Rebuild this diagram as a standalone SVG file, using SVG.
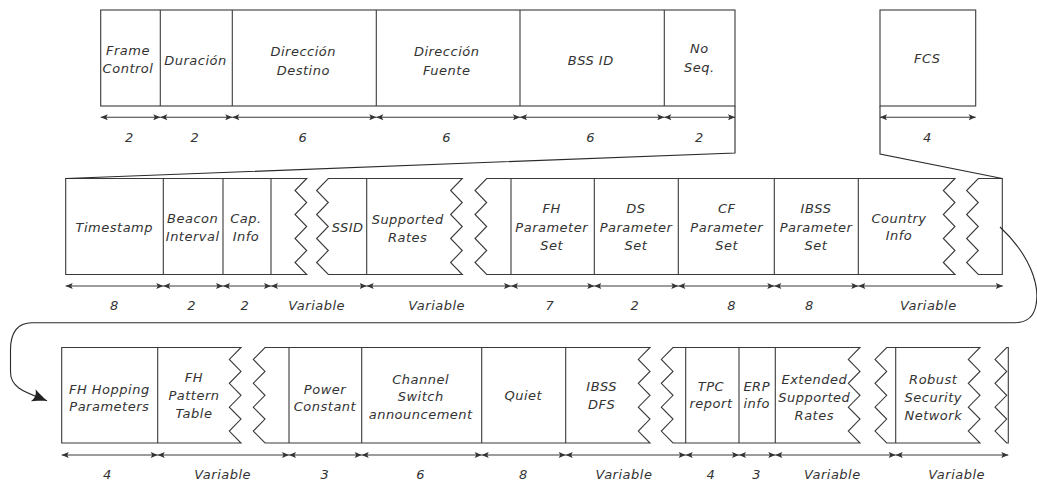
<svg xmlns="http://www.w3.org/2000/svg" width="1037" height="483" viewBox="0 0 1037 483">
<style>
.box{fill:#fff;stroke:#3a3a3a;stroke-width:1.1;stroke-linejoin:miter}
.div{stroke:#3a3a3a;stroke-width:1.1}
.dim{stroke:#3a3a3a;stroke-width:1.1;marker-start:url(#dimarr);marker-end:url(#dimarr)}
.con{fill:none;stroke:#2a2a2a;stroke-width:1.1}
text{font-family:"DejaVu Sans","Liberation Sans",sans-serif;font-style:italic;font-size:13px;fill:#333;text-anchor:middle;letter-spacing:0.5px}
</style>
<defs>
<marker id="dimarr" markerUnits="userSpaceOnUse" viewBox="-8 -4 9 8" refX="0" refY="0" markerWidth="9" markerHeight="8" orient="auto-start-reverse">
<path d="M0,0 L-7,-3 L-5.5,0 L-7,3 Z" fill="#333"/>
</marker>
<marker id="bigarr" markerUnits="userSpaceOnUse" viewBox="-16 -8 17 16" refX="0" refY="0" markerWidth="17" markerHeight="16" orient="auto">
<path d="M0,0 C-4,-1.5 -9,-3.5 -15,-6.5 C-12,-2.5 -12,2.5 -15,6.5 C-9,3.5 -4,1.5 0,0 Z" fill="#222"/>
</marker>
</defs>

<!-- Row 1 outlines -->
<g id="row1">
<rect class="box" x="100.7" y="10" width="634.3" height="96"/>
<line class="div" x1="160.3" y1="10" x2="160.3" y2="106"/>
<line class="div" x1="232.3" y1="10" x2="232.3" y2="106"/>
<line class="div" x1="376.3" y1="10" x2="376.3" y2="106"/>
<line class="div" x1="520" y1="10" x2="520" y2="106"/>
<line class="div" x1="664.3" y1="10" x2="664.3" y2="106"/>
<rect class="box" x="880" y="10" width="95.7" height="96"/>
</g>
<g id="frame-control"><text x="128" y="54.5">Frame</text><text x="128" y="72.5">Control</text><text x="129.3" y="141.5">2</text></g>
<g id="duracion"><text x="195.5" y="64.5">Duración</text><text x="195" y="141.5">2</text></g>
<g id="direccion-destino"><text x="303.3" y="55.5">Dirección</text><text x="303.3" y="74.5">Destino</text><text x="303" y="141.5">6</text></g>
<g id="direccion-fuente"><text x="446.7" y="55.5">Dirección</text><text x="446.7" y="74.5">Fuente</text><text x="446.7" y="141.5">6</text></g>
<g id="bss-id"><text x="590.7" y="64.5">BSS ID</text><text x="590.7" y="141.5">6</text></g>
<g id="no-seq"><text x="699.3" y="52.5">No</text><text x="699.3" y="71.5">Seq.</text><text x="699.3" y="141.5">2</text></g>
<g id="fcs"><text x="927.3" y="62.5">FCS</text><text x="927.3" y="141.5">4</text></g>

<!-- Row 2 outlines -->
<g id="row2">
<path class="box" d="M65.7,178.5 L306.7,178.5 L295,190.5 L306.7,202.5 L295,214.5 L306.7,226.5 L295,238.5 L306.7,250.5 L295,262.5 L306.7,274.5 L65.7,274.5 Z"/>
<line class="div" x1="163.3" y1="178.5" x2="163.3" y2="274.5"/>
<line class="div" x1="223" y1="178.5" x2="223" y2="274.5"/>
<line class="div" x1="271" y1="178.5" x2="271" y2="274.5"/>
<path class="box" d="M328.3,178.5 L462.3,178.5 L450.6,190.5 L462.3,202.5 L450.6,214.5 L462.3,226.5 L450.6,238.5 L462.3,250.5 L450.6,262.5 L462.3,274.5 L328.3,274.5 L316.6,262.5 L328.3,250.5 L316.6,238.5 L328.3,226.5 L316.6,214.5 L328.3,202.5 L316.6,190.5 Z"/>
<line class="div" x1="366.7" y1="178.5" x2="366.7" y2="274.5"/>
<path class="box" d="M486.7,178.5 L955,178.5 L943.3,190.5 L955,202.5 L943.3,214.5 L955,226.5 L943.3,238.5 L955,250.5 L943.3,262.5 L955,274.5 L486.7,274.5 L475,262.5 L486.7,250.5 L475,238.5 L486.7,226.5 L475,214.5 L486.7,202.5 L475,190.5 Z"/>
<line class="div" x1="511" y1="178.5" x2="511" y2="274.5"/>
<line class="div" x1="594.3" y1="178.5" x2="594.3" y2="274.5"/>
<line class="div" x1="678.3" y1="178.5" x2="678.3" y2="274.5"/>
<line class="div" x1="774.3" y1="178.5" x2="774.3" y2="274.5"/>
<line class="div" x1="858.3" y1="178.5" x2="858.3" y2="274.5"/>
<path class="box" d="M978.3,178.5 L1002.3,178.5 L1002.3,274.5 L978.3,274.5 L966.6,262.5 L978.3,250.5 L966.6,238.5 L978.3,226.5 L966.6,214.5 L978.3,202.5 L966.6,190.5 Z"/>
</g>
<g id="timestamp"><text x="114.3" y="231.8">Timestamp</text><text x="114.3" y="310.2">8</text></g>
<g id="beacon-interval"><text x="192.7" y="222.8">Beacon</text><text x="192.7" y="240.5">Interval</text><text x="191.7" y="310.2">2</text></g>
<g id="cap-info"><text x="246" y="222.5">Cap.</text><text x="246" y="240.5">Info</text><text x="245" y="310.2">2</text></g>
<g id="ssid"><text x="347.7" y="231.5">SSID</text><text x="316.7" y="310.2">Variable</text></g>
<g id="supported-rates"><text x="407.7" y="223.8">Supported</text><text x="407.7" y="241.8">Rates</text><text x="436.7" y="310.2">Variable</text></g>
<g id="fh-parameter-set"><text x="551.7" y="212.8">FH</text><text x="551.7" y="231.8">Parameter</text><text x="551.7" y="249.5">Set</text><text x="550" y="310.2">7</text></g>
<g id="ds-parameter-set"><text x="636" y="212.8">DS</text><text x="636" y="231.8">Parameter</text><text x="636" y="249.5">Set</text><text x="635" y="310.2">2</text></g>
<g id="cf-parameter-set"><text x="726.7" y="212.8">CF</text><text x="726.7" y="231.8">Parameter</text><text x="726.7" y="249.5">Set</text><text x="731.7" y="310.2">8</text></g>
<g id="ibss-parameter-set"><text x="816" y="212.8">IBSS</text><text x="816" y="231.8">Parameter</text><text x="816" y="249.5">Set</text><text x="809.3" y="310.2">8</text></g>
<g id="country-info"><text x="899" y="222.8">Country</text><text x="899" y="240.2">Info</text><text x="928.3" y="310.2">Variable</text></g>

<!-- Row 3 outlines -->
<g id="row3">
<path class="box" d="M61.7,347.5 L241,347.5 L229.3,359.4 L241,371.4 L229.3,383.3 L241,395.3 L229.3,407.2 L241,419.1 L229.3,431.1 L241,443 L61.7,443 Z"/>
<line class="div" x1="157.7" y1="347.5" x2="157.7" y2="443"/>
<path class="box" d="M265,347.5 L650,347.5 L638.3,359.4 L650,371.4 L638.3,383.3 L650,395.3 L638.3,407.2 L650,419.1 L638.3,431.1 L650,443 L265,443 L253.3,431.1 L265,419.1 L253.3,407.2 L265,395.3 L253.3,383.3 L265,371.4 L253.3,359.4 Z"/>
<line class="div" x1="289" y1="347.5" x2="289" y2="443"/>
<line class="div" x1="361.7" y1="347.5" x2="361.7" y2="443"/>
<line class="div" x1="481.7" y1="347.5" x2="481.7" y2="443"/>
<line class="div" x1="565.7" y1="347.5" x2="565.7" y2="443"/>
<path class="box" d="M673,347.5 L860,347.5 L848.3,359.4 L860,371.4 L848.3,383.3 L860,395.3 L848.3,407.2 L860,419.1 L848.3,431.1 L860,443 L673,443 L661.3,431.1 L673,419.1 L661.3,407.2 L673,395.3 L661.3,383.3 L673,371.4 L661.3,359.4 Z"/>
<line class="div" x1="685.7" y1="347.5" x2="685.7" y2="443"/>
<line class="div" x1="739" y1="347.5" x2="739" y2="443"/>
<line class="div" x1="775.3" y1="347.5" x2="775.3" y2="443"/>
<path class="box" d="M886.7,347.5 L980,347.5 L968.3,359.4 L980,371.4 L968.3,383.3 L980,395.3 L968.3,407.2 L980,419.1 L968.3,431.1 L980,443 L886.7,443 L875,431.1 L886.7,419.1 L875,407.2 L886.7,395.3 L875,383.3 L886.7,371.4 L875,359.4 Z"/>
<line class="div" x1="895.7" y1="347.5" x2="895.7" y2="443"/>
<path class="box" d="M1006.7,347.5 L1008.3,347.5 L1008.3,443 L1006.7,443 L995,431.1 L1006.7,419.1 L995,407.2 L1006.7,395.3 L995,383.3 L1006.7,371.4 L995,359.4 Z"/>
</g>
<g id="fh-hopping-parameters"><text x="109.3" y="393.5">FH Hopping</text><text x="109.3" y="410.5">Parameters</text><text x="107.3" y="478.5">4</text></g>
<g id="fh-pattern-table"><text x="194" y="381.8">FH</text><text x="194" y="399.8">Pattern</text><text x="194" y="417.8">Table</text><text x="222.7" y="478.5">Variable</text></g>
<g id="power-constant"><text x="325" y="393.5">Power</text><text x="325" y="410.5">Constant</text><text x="325" y="478.5">3</text></g>
<g id="channel-switch"><text x="420.7" y="383.5">Channel</text><text x="420.7" y="400.8">Switch</text><text x="420.7" y="419.2">announcement</text><text x="420.7" y="478.5">6</text></g>
<g id="quiet"><text x="523.3" y="399.5">Quiet</text><text x="523.3" y="478.5">8</text></g>
<g id="ibss-dfs"><text x="601.7" y="390.5">IBSS</text><text x="601.7" y="408.5">DFS</text><text x="624" y="478.5">Variable</text></g>
<g id="tpc-report"><text x="711" y="390.5">TPC</text><text x="711" y="407.8">report</text><text x="711" y="478.5">4</text></g>
<g id="erp-info"><text x="756.7" y="390.5">ERP</text><text x="756.7" y="407.5">info</text><text x="756.7" y="478.5">3</text></g>
<g id="extended-supported-rates"><text x="814.3" y="383.8">Extended</text><text x="814.3" y="401.8">Supported</text><text x="814.3" y="420.2">Rates</text><text x="832.3" y="478.5">Variable</text></g>
<g id="robust-security-network"><text x="933.3" y="383.5">Robust</text><text x="933.3" y="401.5">Security</text><text x="933.3" y="419.5">Network</text><text x="956.7" y="478.5">Variable</text></g>

<!-- dimension arrows -->
<g id="dimensions">
<line class="dim" x1="100.7" y1="117.3" x2="160.3" y2="117.3"/>
<line class="dim" x1="160.3" y1="117.3" x2="232.3" y2="117.3"/>
<line class="dim" x1="232.3" y1="117.3" x2="376.3" y2="117.3"/>
<line class="dim" x1="376.3" y1="117.3" x2="520" y2="117.3"/>
<line class="dim" x1="520" y1="117.3" x2="664.3" y2="117.3"/>
<line class="dim" x1="664.3" y1="117.3" x2="735" y2="117.3"/>
<line class="dim" x1="880" y1="117.3" x2="975.7" y2="117.3"/>

<line class="dim" x1="65.7" y1="286" x2="163.3" y2="286"/>
<line class="dim" x1="163.3" y1="286" x2="223" y2="286"/>
<line class="dim" x1="223" y1="286" x2="271" y2="286"/>
<line class="dim" x1="271" y1="286" x2="366.7" y2="286"/>
<line class="dim" x1="366.7" y1="286" x2="511" y2="286"/>
<line class="dim" x1="511" y1="286" x2="594.3" y2="286"/>
<line class="dim" x1="594.3" y1="286" x2="678.3" y2="286"/>
<line class="dim" x1="678.3" y1="286" x2="774.3" y2="286"/>
<line class="dim" x1="774.3" y1="286" x2="858.3" y2="286"/>
<line class="dim" x1="858.3" y1="286" x2="1002.8" y2="286"/>

<line class="dim" x1="61.7" y1="455" x2="157.7" y2="455"/>
<line class="dim" x1="157.7" y1="455" x2="289" y2="455"/>
<line class="dim" x1="289" y1="455" x2="361.7" y2="455"/>
<line class="dim" x1="361.7" y1="455" x2="481.7" y2="455"/>
<line class="dim" x1="481.7" y1="455" x2="565.7" y2="455"/>
<line class="dim" x1="565.7" y1="455" x2="685.7" y2="455"/>
<line class="dim" x1="685.7" y1="455" x2="739" y2="455"/>
<line class="dim" x1="739" y1="455" x2="775.3" y2="455"/>
<line class="dim" x1="775.3" y1="455" x2="895.7" y2="455"/>
<line class="dim" x1="895.7" y1="455" x2="1008.3" y2="455"/>
</g>

<!-- connectors -->
<g id="connectors">
<path class="con" d="M735,106 L735,153 L65.7,178.5"/>
<path class="con" d="M880,106 L880,154 L1002.3,178.5"/>
<path class="con" marker-end="url(#bigarr)" d="M1000,227 C1030,255 1040,285 1036,305 C1034,316 1028,322.7 1015,322.7 L32,322.7 C18,322.7 10.5,332 10.5,350 L10.5,372 C10.5,388 25,392 47,400.7"/>
</g>
</svg>
